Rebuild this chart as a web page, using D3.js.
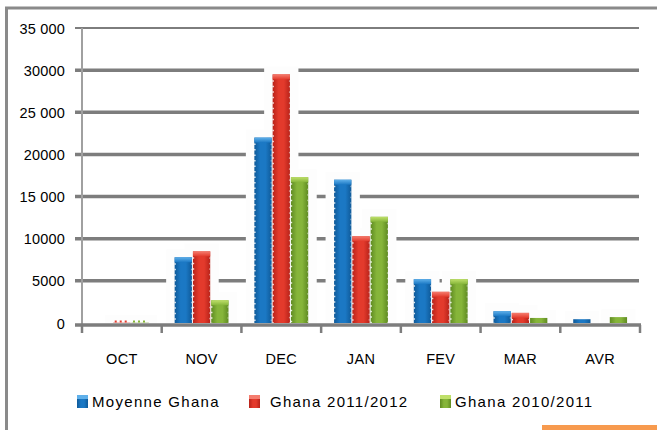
<!DOCTYPE html>
<html><head><meta charset="utf-8">
<script src="https://cdn.jsdelivr.net/npm/d3@7"></script>
<style>body{margin:0;background:#fff}svg{display:block;font-family:Arial,"Liberation Sans",sans-serif}</style>
</head><body><svg id="c" width="657" height="430"></svg>
<script>
const categories = ["OCT","NOV","DEC","JAN","FEV","MAR","AVR"];
const seriesNames = ["Moyenne Ghana","Ghana 2011/2012","Ghana 2010/2011"];
const moyenne = [0, 7800, 22000, 17000, 5200, 1400, 450];
const ghana1112 = [30, 8500, 29500, 10300, 3700, 1200, 0];
const ghana1011 = [30, 2700, 17300, 12600, 5200, 600, 700];
const tickValues = [0,5000,10000,15000,20000,25000,30000,35000];
const tickLabels = ["0","5000","10000","15 000","20000","25 000","30000","35 000"];
const colors = ["#1b78c4","#e33a2c","#86b53a"];
const lights = ["#5fb0ea","#f57d6f","#bfe06a"];
const darks = ["#0f5a99","#b8231a","#5f8b22"];

const seriesVals = [moyenne, ghana1112, ghana1011];
const svg = d3.select("#c");

// frame
svg.append("rect").attr("x",0).attr("y",0).attr("width",657).attr("height",430).attr("fill","#fff");
svg.append("line").attr("x1",5).attr("x2",657).attr("y1",8).attr("y2",8).attr("stroke","#8a8a8a").attr("stroke-width",3);
svg.append("line").attr("x1",6.5).attr("x2",6.5).attr("y1",7).attr("y2",430).attr("stroke","#8a8a8a").attr("stroke-width",3);
svg.append("rect").attr("x",542).attr("y",425).attr("width",115).attr("height",5).attr("fill","#f79a4e");

const x0 = d3.scaleBand().domain(categories).range([82,640]).paddingInner(0).paddingOuter(0);
const x1 = d3.scaleBand().domain(seriesNames).range([0,x0.bandwidth()]).paddingInner(0).paddingOuter(0.68);
const y = d3.scaleLinear().domain([0,35000]).range([323,28]);

// gradients
const defs = svg.append("defs");
seriesNames.forEach((s,i)=>{
  const g = defs.append("linearGradient").attr("id","g"+i).attr("x1","0").attr("x2","1").attr("y1","0").attr("y2","0");
  g.append("stop").attr("offset","0%").attr("stop-color",darks[i]);
  g.append("stop").attr("offset","35%").attr("stop-color",colors[i]);
  g.append("stop").attr("offset","65%").attr("stop-color",colors[i]);
  g.append("stop").attr("offset","100%").attr("stop-color",darks[i]);
  const t = defs.append("linearGradient").attr("id","t"+i).attr("x1","0").attr("x2","0").attr("y1","0").attr("y2","1");
  t.append("stop").attr("offset","0%").attr("stop-color",lights[i]);
  t.append("stop").attr("offset","100%").attr("stop-color",colors[i]);
});

// gridlines
const grid = svg.append("g");
grid.selectAll("line").data(tickValues.filter(v=>v>0)).join("line")
  .attr("x1",75).attr("x2",639).attr("y1",d=>y(d)).attr("y2",d=>y(d))
  .attr("stroke","#7d7d7d").attr("stroke-width",d=>d===35000?2:3.5);

// y axis labels
const yAxis = d3.axisLeft(y).tickValues(tickValues).tickFormat((d,i)=>tickLabels[i]).tickSize(0).tickPadding(0);
const yg = svg.append("g").attr("transform","translate(65,0)").call(yAxis);
yg.select(".domain").remove();
yg.selectAll("text").attr("font-size",14.5).attr("fill","#000").attr("letter-spacing","0.2px").attr("dy","0.35em");

const data = [];
categories.forEach((c,ci)=>seriesNames.forEach((s,si)=>data.push({c,s,si,v:seriesVals[si][ci]})));

// halos
svg.append("g").selectAll("rect").data(data.filter(d=>d.v>0)).join("rect")
  .attr("x",d=>x0(d.c)+x1(d.s)-8).attr("width",x1.bandwidth()+16)
  .attr("y",d=>y(d.v)-8).attr("height",d=>y(0)-y(d.v)+8).attr("fill","#fdfdfd");

// y axis line
svg.append("line").attr("x1",82).attr("x2",82).attr("y1",28).attr("y2",325).attr("stroke","#a0a0a0").attr("stroke-width",2);

// bars
const bars = svg.append("g").selectAll("g").data(data).join("g")
  .attr("transform",d=>`translate(${x0(d.c)+x1(d.s)},0)`);
const bw = x1.bandwidth();
bars.append("rect").attr("x",0.5).attr("width",bw-1).attr("y",d=>y(d.v)).attr("height",d=>y(0)-y(d.v))
  .attr("fill",d=>`url(#g${d.si})`);
bars.filter(d=>y(0)-y(d.v)>6).append("rect").attr("x",0.5).attr("width",bw-1).attr("y",d=>y(d.v)).attr("height",5)
  .attr("fill",d=>`url(#t${d.si})`);
bars.append("line").attr("x1",1).attr("x2",1).attr("y1",d=>y(d.v)+6).attr("y2",y(0))
  .attr("stroke","#fff").attr("stroke-width",1.5).attr("stroke-dasharray","1.5,4").attr("opacity",0.85);
bars.append("line").attr("x1",bw-1).attr("x2",bw-1).attr("y1",d=>y(d.v)+6).attr("y2",y(0))
  .attr("stroke","#fff").attr("stroke-width",1).attr("stroke-dasharray","1.5,4").attr("opacity",0.5);
// tiny dotted marks for near-zero values
bars.filter(d=>d.v>0 && d.v<100).append("line").attr("x1",2).attr("x2",bw-2).attr("y1",y(0)-1.5).attr("y2",y(0)-1.5)
  .attr("stroke",d=>colors[d.si]).attr("stroke-width",2).attr("stroke-dasharray","2,3");

// x axis
const xAxis = d3.axisBottom(x0).tickSize(0).tickPadding(0);
const xg = svg.append("g").attr("transform",`translate(0,${y(0)+1})`).call(xAxis);
xg.select(".domain").remove();
xg.selectAll("text").attr("y",40).attr("font-size",14.5).attr("fill","#000").attr("letter-spacing","0.3px").attr("dy","0");
svg.append("line").attr("x1",75).attr("x2",641).attr("y1",y(0)+2).attr("y2",y(0)+2).attr("stroke","#7d7d7d").attr("stroke-width",3.5);
svg.append("g").selectAll("line").data(categories.concat(["end"])).join("line")
  .attr("x1",(d,i)=>i<categories.length?x0(d):x0(categories[categories.length-1])+x0.bandwidth())
  .attr("x2",(d,i)=>i<categories.length?x0(d):x0(categories[categories.length-1])+x0.bandwidth())
  .attr("y1",y(0)+2).attr("y2",y(0)+10).attr("stroke","#7d7d7d").attr("stroke-width",2.5);

// legend
const legX = [77, 249, 440];
const legGap = [15, 21, 15];
const lg = svg.append("g").selectAll("g").data(seriesNames).join("g")
  .attr("transform",(d,i)=>`translate(${legX[i]},395)`);
lg.append("rect").attr("width",11).attr("height",13).attr("fill",(d,i)=>`url(#g${i})`);
lg.append("rect").attr("width",11).attr("height",4).attr("fill",(d,i)=>lights[i]);
lg.append("text").attr("x",(d,i)=>legGap[i]).attr("y",12).attr("font-size",15).attr("letter-spacing","1.3px").attr("fill","#000").text(d=>d);
</script></body></html>
